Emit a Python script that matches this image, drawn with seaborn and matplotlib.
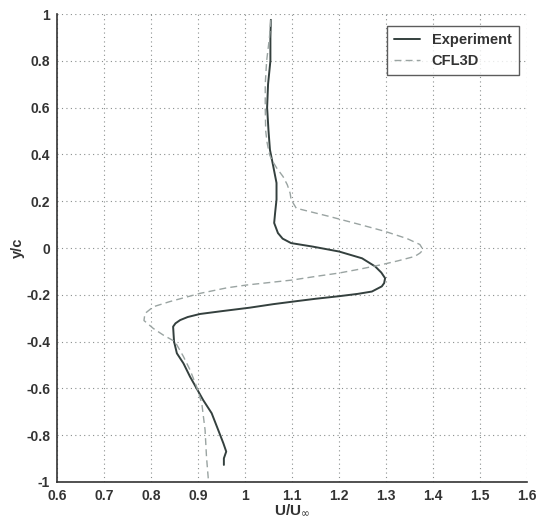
import matplotlib
matplotlib.use("Agg")
import matplotlib.pyplot as plt
import numpy as np
import pandas as pd
import seaborn as sns

# experiment profile, read top to bottom
exp_y = [0.975, 0.90, 0.80, 0.70, 0.60, 0.50, 0.42, 0.35, 0.278, 0.207, 0.15, 0.107,
         0.064, 0.04, 0.021, 0.006, -0.015, -0.044, -0.079, -0.105, -0.129, -0.15,
         -0.164, -0.186, -0.196, -0.206, -0.217, -0.227, -0.24, -0.255, -0.27, -0.282,
         -0.295, -0.308, -0.322, -0.336, -0.37, -0.40, -0.45, -0.493, -0.55, -0.60,
         -0.65, -0.706, -0.778, -0.835, -0.87, -0.899, -0.927]
exp_u = [1.055, 1.054, 1.054, 1.049, 1.047, 1.050, 1.053, 1.060, 1.067, 1.067, 1.064, 1.062,
         1.070, 1.080, 1.098, 1.144, 1.200, 1.249, 1.277, 1.290, 1.298, 1.296,
         1.291, 1.270, 1.240, 1.200, 1.150, 1.110, 1.060, 1.010, 0.950, 0.904,
         0.878, 0.862, 0.852, 0.847, 0.848, 0.849, 0.855, 0.869, 0.883, 0.897,
         0.911, 0.929, 0.943, 0.954, 0.960, 0.955, 0.955]

# CFL3D profile
cfd_y = [0.975, 0.90, 0.80, 0.70, 0.60, 0.50, 0.45, 0.40, 0.376, 0.34, 0.305, 0.27, 0.234,
         0.207, 0.17, 0.135, 0.10, 0.071, 0.04, 0.015, -0.008, -0.022, -0.036, -0.055,
         -0.071, -0.09, -0.107, -0.12, -0.137, -0.158, -0.17, -0.194, -0.229, -0.251,
         -0.28, -0.31, -0.344, -0.372, -0.40, -0.464, -0.521, -0.593, -0.664, -0.778,
         -0.892, -0.99]
cfd_u = [1.055, 1.052, 1.046, 1.043, 1.043, 1.044, 1.047, 1.052, 1.057, 1.068, 1.081, 1.090, 1.096,
         1.098, 1.109, 1.179, 1.245, 1.298, 1.345, 1.372, 1.379, 1.372, 1.361, 1.325,
         1.291, 1.245, 1.200, 1.155, 1.100, 1.004, 0.962, 0.904, 0.840, 0.805,
         0.787, 0.785, 0.805, 0.826, 0.851, 0.869, 0.883, 0.897, 0.908, 0.915,
         0.918, 0.922]

x_ticks = [0.6, 0.7, 0.8, 0.9, 1.0, 1.1, 1.2, 1.3, 1.4, 1.5, 1.6]
x_labels = ["0.6", "0.7", "0.8", "0.9", "1", "1.1", "1.2", "1.3", "1.4", "1.5", "1.6"]
y_ticks = [-1, -0.8, -0.6, -0.4, -0.2, 0, 0.2, 0.4, 0.6, 0.8, 1]
y_labels = ["-1", "-0.8", "-0.6", "-0.4", "-0.2", "0", "0.2", "0.4", "0.6", "0.8", "1"]

df = pd.concat([
    pd.DataFrame({"U": exp_u, "y": exp_y, "source": "Experiment"}),
    pd.DataFrame({"U": cfd_u, "y": cfd_y, "source": "CFL3D"}),
], ignore_index=True)

sns.set_style("white")
plt.rcParams["font.family"] = ["Liberation Sans", "DejaVu Sans"]

fig = plt.figure(figsize=(5.38, 5.27), dpi=100)
ax = fig.add_axes([0.106, 0.0854, 0.8736, 0.888])

sns.lineplot(data=df, x="U", y="y", hue="source", style="source", sort=False,
             estimator=None, ax=ax,
             palette={"Experiment": "#34403e", "CFL3D": "#9aa4a2"},
             dashes={"Experiment": "", "CFL3D": (5, 3)},
             size="source", sizes={"Experiment": 1.4, "CFL3D": 1.0})

ax.set_xlim(0.6, 1.6)
ax.set_ylim(-1, 1)
ax.set_xticks(x_ticks)
ax.set_xticklabels(x_labels)
ax.set_yticks(y_ticks)
ax.set_yticklabels(y_labels)
ax.tick_params(direction="in", length=4, width=0.8, colors="#333333",
               labelsize=10, pad=5)
for lab in ax.get_xticklabels() + ax.get_yticklabels():
    lab.set_fontweight("bold")

ax.grid(True, linestyle=(0, (1, 3)), color="#8a8f8e", linewidth=0.8)
for side in ["top", "right"]:
    ax.spines[side].set_visible(False)
for side in ["left", "bottom"]:
    ax.spines[side].set_color("#333333")
    ax.spines[side].set_linewidth(1.2)

ax.set_xlabel(r"U/U$_\infty$", fontsize=11, fontweight="bold", color="#333333", labelpad=0)
ax.set_ylabel("y/c", fontsize=10.5, fontweight="bold", color="#333333", labelpad=1)

handles, labels = ax.get_legend_handles_labels()
keep = [i for i, l in enumerate(labels) if l in ("Experiment", "CFL3D")][:2]
leg = ax.legend([handles[i] for i in keep], [labels[i] for i in keep],
                loc="upper right", bbox_to_anchor=(0.998, 0.99), frameon=True,
                fancybox=False, edgecolor="#333333", fontsize=10.5,
                handlelength=1.8, borderpad=0.5, labelspacing=0.45)
leg.get_frame().set_linewidth(1.0)
for t in leg.get_texts():
    t.set_fontweight("bold")
    t.set_color("#333333")

fig.savefig("out.png", dpi=100)
